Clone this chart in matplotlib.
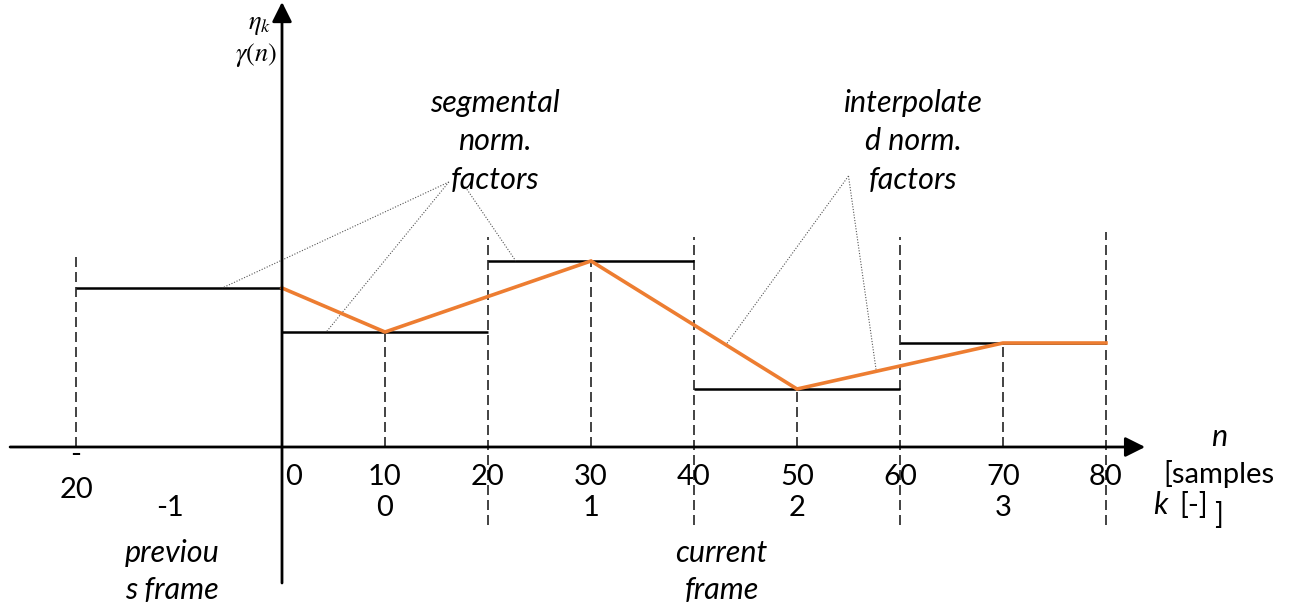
import numpy as np
import matplotlib
matplotlib.use('Agg')
import matplotlib.pyplot as plt

# segment data (n in samples, levels in arbitrary units)
seg_edges = [-20, 0, 20, 40, 60, 80]
seg_levels = [1.59, 1.15, 1.86, 0.58, 1.04]     # eta_k for k = -1 .. 3
seg_centers = [-10, 10, 30, 50, 70]
k_labels = ['-1', '0', '1', '2', '3']

# interpolated normalisation factor gamma(n)
interp_n = [0, 10, 30, 50, 70, 80]
interp_vals = [1.59, 1.15, 1.86, 0.58, 1.04, 1.04]

n_ticks = [0, 10, 20, 30, 40, 50, 60, 70, 80]

ORANGE = '#ED7D31'
FONT = 'Lato'

plt.rcParams['mathtext.fontset'] = 'stix'

fig = plt.figure(figsize=(12.96, 6.12), dpi=100)
ax = fig.add_axes([0, 0, 1, 1])
ax.set_xlim(-27.38, 98.45)
ax.set_ylim(-1.65, 4.47)
ax.axis('off')

dash = (0, (6, 3))

# frame boundaries (long dashed lines)
ax.plot([-20, -20], [0, 1.90], color='#222222', lw=1.2, linestyle=dash)
for b, top in zip(seg_edges[2:], [2.10, 2.10, 2.10, 2.15]):
    ax.plot([b, b], [-0.78, top], color='#222222', lw=1.2, linestyle=dash)

# segment centres (short dashed lines)
for c, lev in zip(seg_centers[1:], seg_levels[1:]):
    ax.plot([c, c], [0, lev], color='#222222', lw=1.2, linestyle=dash)

# segmental factors
for i, lev in enumerate(seg_levels):
    ax.plot([seg_edges[i], seg_edges[i + 1]], [lev, lev], color='black', lw=1.8,
            solid_capstyle='butt')

# interpolated factors
ax.plot(interp_n, interp_vals, color=ORANGE, lw=2.6, solid_joinstyle='miter', zorder=4)

# axes with arrows
ax.annotate('', xy=(83.8, 0), xytext=(-26.4, 0),
            arrowprops=dict(arrowstyle='-|>', color='black', lw=2, mutation_scale=30,
                            shrinkA=0, shrinkB=0), zorder=5)
ax.annotate('', xy=(0, 4.45), xytext=(0, -1.36),
            arrowprops=dict(arrowstyle='-|>', color='black', lw=2, mutation_scale=30,
                            shrinkA=0, shrinkB=0), zorder=5)

# leader lines
dot = dict(color='#555555', lw=0.8, linestyle=(0, (1, 1.5)))
ax.plot([16.2, -5.8], [2.65, seg_levels[0]], **dot)
ax.plot([16.2, 4.3], [2.65, seg_levels[1]], **dot)
ax.plot([17.8, 22.7], [2.60, seg_levels[2]], **dot)
for xe in [43.1, 57.7]:
    ax.plot([55.0, xe], [2.71, np.interp(xe, interp_n, interp_vals)], **dot)

# tick labels
fs = 21
for n in n_ticks:
    ax.text(n + (1.1 if n == 0 else 0), -0.30, str(n), ha='center', va='center',
            fontsize=fs, family=FONT)
ax.text(-20, -0.08, '-', ha='center', va='center', fontsize=fs, family=FONT)
ax.text(-20, -0.43, '20', ha='center', va='center', fontsize=fs, family=FONT)
for c, lab in zip(seg_centers, k_labels):
    ax.text(c if c != -10 else -10.9, -0.61, lab, ha='center', va='center',
            fontsize=fs, family=FONT)

# annotations
it = dict(ha='center', va='center', fontsize=22, family=FONT, style='italic')
for txt, y in zip(['segmental', 'norm.', 'factors'], [3.44, 3.06, 2.67]):
    ax.text(20.7, y, txt, **it)
for txt, y in zip(['interpolate', 'd norm.', 'factors'], [3.44, 3.06, 2.67]):
    ax.text(61.3, y, txt, **it)
for txt, y in zip(['previou', 's frame'], [-1.06, -1.43]):
    ax.text(-10.7, y, txt, **it)
for txt, y in zip(['current', 'frame'], [-1.06, -1.43]):
    ax.text(42.7, y, txt, **it)

# axis titles
ax.text(91.0, 0.10, 'n', **it)
ax.text(91.0, -0.27, '[samples', ha='center', va='center', fontsize=fs, family=FONT)
ax.text(85.3, -0.58, 'k', **it)
ax.text(88.5, -0.58, '[-]', ha='center', va='center', fontsize=fs, family=FONT)
ax.text(90.9, -0.69, ']', ha='center', va='center', fontsize=fs, family=FONT)

ax.text(-2.2, 4.23, r'$\eta_k$', ha='center', va='center', fontsize=19)
ax.text(-2.5, 3.92, r'$\gamma(n)$', ha='center', va='center', fontsize=19)

fig.savefig('out.png', dpi=100)
plt.close(fig)
